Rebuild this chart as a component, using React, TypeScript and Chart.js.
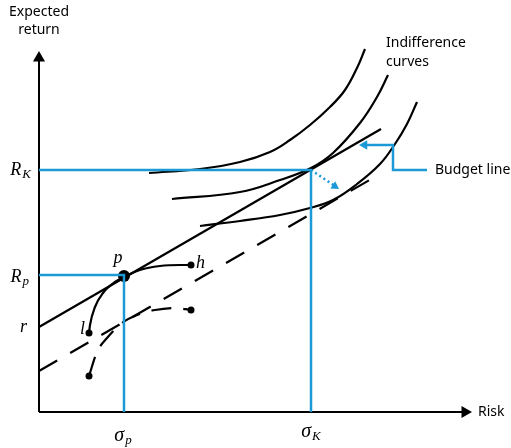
import React, { useEffect, useRef } from "react";
import { Chart, registerables } from "chart.js";

Chart.register(...registerables);

// Data space: x = risk, y = expected return, origin at the axes crossing
const X_RANGE = [-39, 472];
const Y_RANGE = [-36, 412];

const SIGMA_P = 85;
const SIGMA_K = 272;
const R_F = 85;
const R_P = 137;
const R_K = 242;

const X_AXIS_END = 433;
const Y_AXIS_END = 361;

const BLACK = "#000000";
const BLUE = "#1c9ad6";

const budgetLine = [
  { x: 0, y: R_F },
  { x: 342, y: 283 },
];
const shiftedBudgetLine = [
  { x: 0, y: 41 },
  { x: 341, y: 238 },
];
const indifferenceTop = [
  { x: 110, y: 239 },
  { x: 161, y: 243 },
  { x: 201, y: 250 },
  { x: 231, y: 260 },
  { x: 251, y: 272 },
  { x: 271, y: 287 },
  { x: 291, y: 305 },
  { x: 306, y: 322 },
  { x: 318, y: 344 },
  { x: 326, y: 363 },
];
const indifferenceMid = [
  { x: 133, y: 213 },
  { x: 201, y: 220 },
  { x: 241, y: 232 },
  { x: 272, y: 244 },
  { x: 294, y: 259 },
  { x: 321, y: 289 },
  { x: 338, y: 315 },
  { x: 349, y: 337 },
];
const indifferenceLow = [
  { x: 161, y: 186 },
  { x: 201, y: 191 },
  { x: 241, y: 197 },
  { x: 271, y: 204 },
  { x: 294, y: 212 },
  { x: 318, y: 228 },
  { x: 341, y: 248 },
  { x: 356, y: 268 },
  { x: 368, y: 288 },
  { x: 378, y: 310 },
];
const frontierSolid = [
  { x: 50, y: 79 },
  { x: 51, y: 87 },
  { x: 56, y: 105 },
  { x: 64, y: 119 },
  { x: 76, y: 130 },
  { x: 85, y: 135 },
  { x: 101, y: 142 },
  { x: 121, y: 146 },
  { x: 141, y: 147 },
  { x: 152, y: 147 },
];
const frontierDashed = [
  { x: 50, y: 36 },
  { x: 58, y: 60 },
  { x: 68, y: 74 },
  { x: 83, y: 89 },
  { x: 98, y: 97 },
  { x: 116, y: 102 },
  { x: 136, y: 104 },
  { x: 152, y: 102 },
];
const endDots = [
  { x: 50, y: 79 },
  { x: 152, y: 147 },
  { x: 50, y: 36 },
  { x: 152, y: 102 },
];
const pointP = [{ x: 85, y: 136 }];
const calloutLine = [
  { x: 388, y: R_K },
  { x: 354, y: R_K },
  { x: 354, y: 267 },
  { x: 325, y: 267 },
];
const calloutTip = { x: 320, y: 267 };
const shiftArrow = [
  { x: SIGMA_K, y: R_K },
  { x: 296, y: 226 },
];
const shiftTip = { x: 300, y: 223 };

function arrowCenter(tip: { x: number; y: number }, rotDeg: number, r: number) {
  const a = (rotDeg * Math.PI) / 180;
  return { x: tip.x - Math.sin(a) * r, y: tip.y - Math.cos(a) * r };
}

const arrowHeads = [
  { tip: { x: 0, y: Y_AXIS_END }, rot: 0, r: 7, color: BLACK },
  { tip: { x: X_AXIS_END, y: 0 }, rot: 90, r: 7, color: BLACK },
  { tip: calloutTip, rot: -90, r: 5.5, color: BLUE },
  { tip: shiftTip, rot: 124, r: 5, color: BLUE },
];

const labelsPlugin = {
  id: "diagramLabels",
  afterDatasetsDraw(chart: any) {
    const { ctx } = chart;
    const sx = chart.scales.x;
    const sy = chart.scales.y;
    const X = (v: number) => sx.getPixelForValue(v);
    const Y = (v: number) => sy.getPixelForValue(v);
    ctx.save();
    ctx.fillStyle = "#000";
    ctx.textBaseline = "middle";

    const sans = "14px 'Noto Sans', 'Open Sans', sans-serif";
    ctx.font = sans;
    ctx.textAlign = "center";
    ctx.fillText("Expected", X(0), Y(400));
    ctx.fillText("return", X(0), Y(382));
    ctx.textAlign = "left";
    ctx.fillText("Indifference", X(347), Y(369));
    ctx.fillText("curves", X(347), Y(350));
    ctx.fillText("Budget line", X(396), Y(R_K));
    ctx.fillText("Risk", X(439), Y(0));

    const serif = "'Liberation Serif', 'DejaVu Serif', serif";
    const math = (
      main: string,
      sub: string,
      px: number,
      py: number,
      align: "left" | "right" | "center",
      size = 18
    ) => {
      const mainFont = `italic ${size}px ${serif}`;
      const subFont = `italic 13px ${serif}`;
      ctx.font = mainFont;
      const wm = ctx.measureText(main).width;
      ctx.font = subFont;
      const ws = sub ? ctx.measureText(sub).width : 0;
      const total = wm + (sub ? ws + 1 : 0);
      let left = px;
      if (align === "right") left = px - total;
      if (align === "center") left = px - total / 2;
      ctx.textAlign = "left";
      ctx.font = mainFont;
      ctx.fillText(main, left, py);
      if (sub) {
        ctx.font = subFont;
        ctx.fillText(sub, left + wm + 1, py + 5);
      }
    };
    math("R", "K", X(-8), Y(R_K), "right");
    math("R", "p", X(-10), Y(R_P - 2), "right");
    math("r", "", X(-12), Y(R_F), "right");
    math("σ", "p", X(SIGMA_P - 1), Y(-24), "center", 20);
    math("σ", "K", X(SIGMA_K), Y(-20), "center", 20);
    math("p", "", X(79), Y(154), "center");
    math("l", "", X(46), Y(83), "right");
    math("h", "", X(157), Y(149), "left");
    ctx.restore();
  },
};

export default function App() {
  const ref = useRef<HTMLCanvasElement | null>(null);

  useEffect(() => {
    if (!ref.current) return;
    const seg = (data: any[], color: string, width: number, extra: any = {}) => ({
      data,
      showLine: true,
      borderColor: color,
      backgroundColor: color,
      borderWidth: width,
      pointRadius: 0,
      fill: false,
      clip: false,
      ...extra,
    });
    const curve = { cubicInterpolationMode: "monotone" };
    const smooth = { tension: 0.4 };

    const heads = arrowHeads.map((a) => arrowCenter(a.tip, a.rot, a.r));

    const chart = new Chart(ref.current, {
      type: "scatter",
      data: {
        datasets: [
          seg([{ x: 0, y: R_K }, { x: SIGMA_K, y: R_K }, { x: SIGMA_K, y: 0 }], BLUE, 2.5),
          seg([{ x: 0, y: R_P }, { x: SIGMA_P, y: R_P }, { x: SIGMA_P, y: 0 }], BLUE, 2.5),
          seg(calloutLine, BLUE, 2.5),
          seg(shiftArrow, BLUE, 2.5, { borderDash: [2, 3] }),
          seg([{ x: 0, y: 0 }, { x: 0, y: Y_AXIS_END - 8 }], BLACK, 2),
          seg([{ x: 0, y: 0 }, { x: X_AXIS_END - 8, y: 0 }], BLACK, 2),
          seg(budgetLine, BLACK, 2.2),
          seg(shiftedBudgetLine, BLACK, 2.2, { borderDash: [21, 15] }),
          seg(indifferenceTop, BLACK, 2.2, smooth),
          seg(indifferenceMid, BLACK, 2.2, smooth),
          seg(indifferenceLow, BLACK, 2.2, smooth),
          seg(frontierSolid, BLACK, 2.2, curve),
          seg(frontierDashed, BLACK, 2.2, { ...curve, borderDash: [20, 12] }),
          {
            data: endDots,
            showLine: false,
            pointRadius: 3.5,
            backgroundColor: BLACK,
            borderColor: BLACK,
            borderWidth: 0,
            clip: false,
          },
          {
            data: pointP,
            showLine: false,
            pointRadius: 6,
            backgroundColor: BLACK,
            borderColor: BLACK,
            borderWidth: 0,
            clip: false,
          },
          {
            data: heads,
            showLine: false,
            pointStyle: "triangle",
            pointRadius: arrowHeads.map((a) => a.r),
            rotation: arrowHeads.map((a) => a.rot),
            backgroundColor: arrowHeads.map((a) => a.color),
            borderColor: arrowHeads.map((a) => a.color),
            borderWidth: 0,
            clip: false,
          },
        ] as any,
      },
      options: {
        animation: false,
        responsive: true,
        maintainAspectRatio: false,
        layout: { padding: 0, autoPadding: false },
        events: [],
        plugins: { legend: { display: false }, tooltip: { enabled: false } },
        scales: {
          x: { type: "linear", display: false, min: X_RANGE[0], max: X_RANGE[1] },
          y: { type: "linear", display: false, min: Y_RANGE[0], max: Y_RANGE[1] },
        },
      },
      plugins: [labelsPlugin],
    });
    return () => chart.destroy();
  }, []);

  return (
    <div style={{ position: "absolute", left: 0, top: 0, width: 511, height: 448, background: "#fff" }}>
      <canvas ref={ref} />
    </div>
  );
}
